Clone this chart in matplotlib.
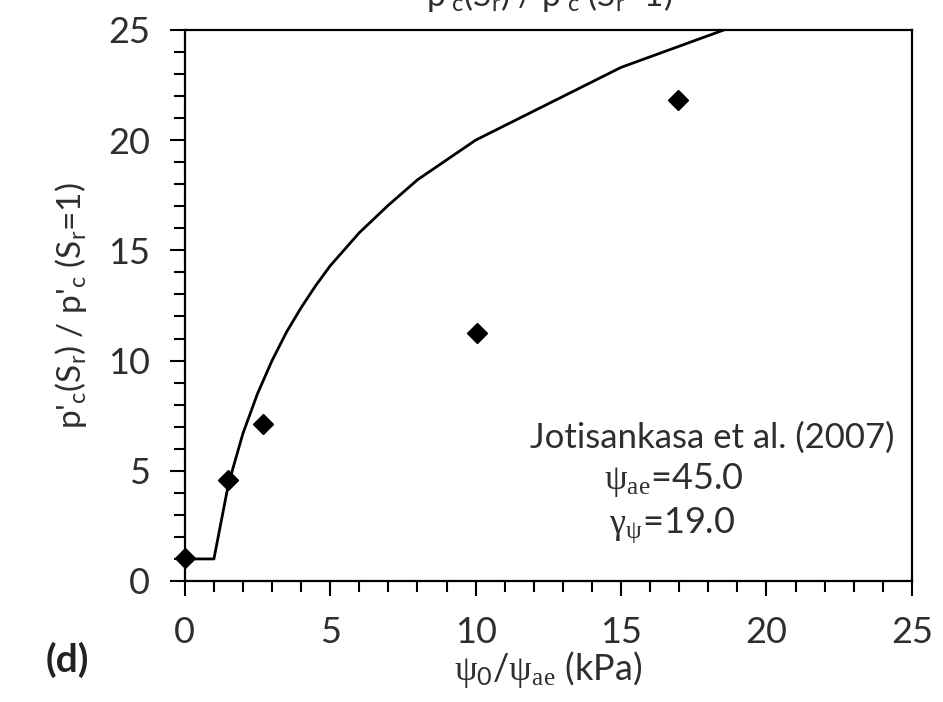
import numpy as np
import matplotlib
matplotlib.use("Agg")
import matplotlib.pyplot as plt
from matplotlib.ticker import MultipleLocator

plt.rcParams['font.family'] = ['Lato', 'DejaVu Sans']
plt.rcParams['mathtext.fontset'] = 'custom'
plt.rcParams['mathtext.rm'] = 'Lato'
plt.rcParams['mathtext.it'] = 'Lato'
plt.rcParams['mathtext.sf'] = 'Liberation Serif'
plt.rcParams['mathtext.default'] = 'regular'

# measured points (Jotisankasa et al. 2007)
meas_x = [0.0, 1.5, 2.7, 10.05, 16.95]
meas_y = [1.05, 4.6, 7.1, 11.25, 21.8]

# model curve
model_x = [0, 1, 1.5, 2, 2.5, 3, 3.5, 4, 4.5, 5, 6, 7, 8, 9, 10, 15, 20]
model_y = [1, 1, 4.4, 6.7, 8.5, 10.0, 11.3, 12.4, 13.4, 14.3, 15.8, 17.05,
           18.2, 19.1, 20.0, 23.3, 25.7]

txt_col = '#2e2e2e'

fig = plt.figure(figsize=(9.43, 7.02), dpi=100)
ax = fig.add_axes([0.196, 0.1724, 0.771, 0.785])

ax.plot(model_x, model_y, color='black', lw=2.0, clip_on=True, zorder=2,
        solid_joinstyle='round')
ax.plot(meas_x, meas_y, linestyle='none', marker='D', markersize=10,
        color='black', clip_on=False, zorder=3)

ax.set_xlim(0, 25)
ax.set_ylim(0, 25)
ax.xaxis.set_major_locator(MultipleLocator(5))
ax.xaxis.set_minor_locator(MultipleLocator(1))
ax.yaxis.set_major_locator(MultipleLocator(5))
ax.yaxis.set_minor_locator(MultipleLocator(1))
ax.tick_params(which='major', length=11, width=1.5, direction='out',
               labelsize=26, labelcolor=txt_col, pad=14)
ax.tick_params(which='minor', length=8, width=1.5, direction='out')
for sp in ax.spines.values():
    sp.set_linewidth(1.6)

ax.set_xlabel(r'$\mathsf{\psi}_0$/$\mathsf{\psi}_{\mathsf{ae}}$ (kPa)', fontsize=26,
              color=txt_col, labelpad=0)
ax.set_ylabel(r"p$'_c$(S$_r$) / p$'_c$ (S$_r$=1)", fontsize=24, color=txt_col,
              labelpad=14)

ax.text(24.4, 6.5, 'Jotisankasa et al. (2007)', fontsize=25, color=txt_col,
        ha='right', va='center')
ax.text(14.4, 4.6, r'$\mathsf{\psi}_{\mathsf{ae}}$=45.0', fontsize=26, color=txt_col,
        ha='left', va='center')
ax.text(14.6, 2.5, r'$\mathsf{\gamma}_{\mathsf{\psi}}$=19.0', fontsize=26, color=txt_col,
        ha='left', va='center')

fig.text(0.048, 0.06, '(d)', fontsize=28, fontweight='bold', color='#222222',
         ha='left', va='center')
fig.text(0.583, 1 - 6 / 702, r"p$'_c$(S$_r$) / p$'_c$ (S$_r$=1)", fontsize=24,
         color=txt_col, ha='center', va='baseline')

fig.savefig('out.png', dpi=100)
